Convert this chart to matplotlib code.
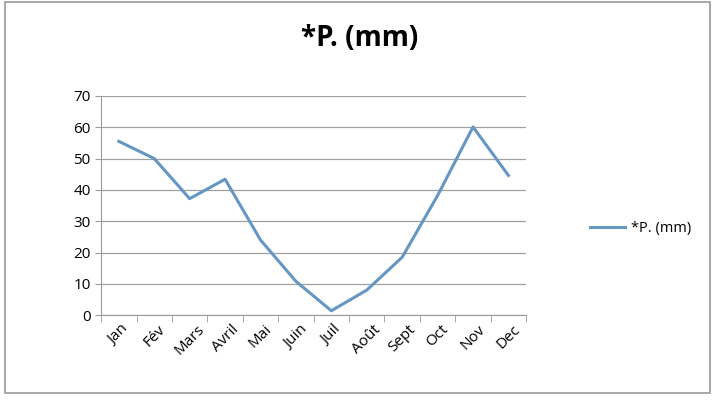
import matplotlib.pyplot as plt
from matplotlib.patches import Rectangle

months = ["Jan", "Fév", "Mars", "Avril", "Mai", "Juin", "Juil", "Août", "Sept", "Oct", "Nov", "Dec"]
precip = [55.5, 50.0, 37.2, 43.4, 24.0, 10.8, 1.4, 8.0, 18.5, 38.2, 60.1, 44.6]
yticks = [0, 10, 20, 30, 40, 50, 60, 70]

plt.rcParams['font.family'] = ['Open Sans', 'DejaVu Sans']

fig = plt.figure(figsize=(7.12, 4.03), dpi=100)
ax = fig.add_axes([0.142, 0.218, 0.597, 0.544])

x = list(range(len(months)))
line, = ax.plot(x, precip, color="#6596c4", linewidth=2.2, label="*P. (mm)")

ax.set_xlim(-0.5, len(months) - 0.5)
ax.set_ylim(0, 70)
ax.set_yticks(yticks)
ax.set_xticks(x)
ax.set_xticklabels(months, rotation=45, ha="center", fontsize=11)
ax.tick_params(axis="x", length=0, pad=5)
ax.set_xticks([i - 0.5 for i in range(len(months) + 1)], minor=True)
ax.tick_params(axis="x", which="minor", length=5, color="#9a9a9a")
ax.tick_params(axis="y", labelsize=11, length=4, color="#9a9a9a")

ax.grid(axis="y", color="#a0a0a0", linewidth=0.9)
ax.set_axisbelow(True)
for s in ["top", "right"]:
    ax.spines[s].set_visible(False)
for s in ["left", "bottom"]:
    ax.spines[s].set_color("#9a9a9a")

fig.suptitle("*P. (mm)", x=0.505, y=0.94, fontsize=20, fontweight="bold")

fig.legend(handles=[line], loc="center left", bbox_to_anchor=(0.81, 0.432),
           frameon=False, fontsize=10.5, handlelength=2.4, handletextpad=0.4)

fig.patches.append(Rectangle((0.007, 0.025), 0.99, 0.97, transform=fig.transFigure,
                             fill=False, edgecolor="#9a9a9a", linewidth=1.2))

fig.savefig("out.png", dpi=100)
